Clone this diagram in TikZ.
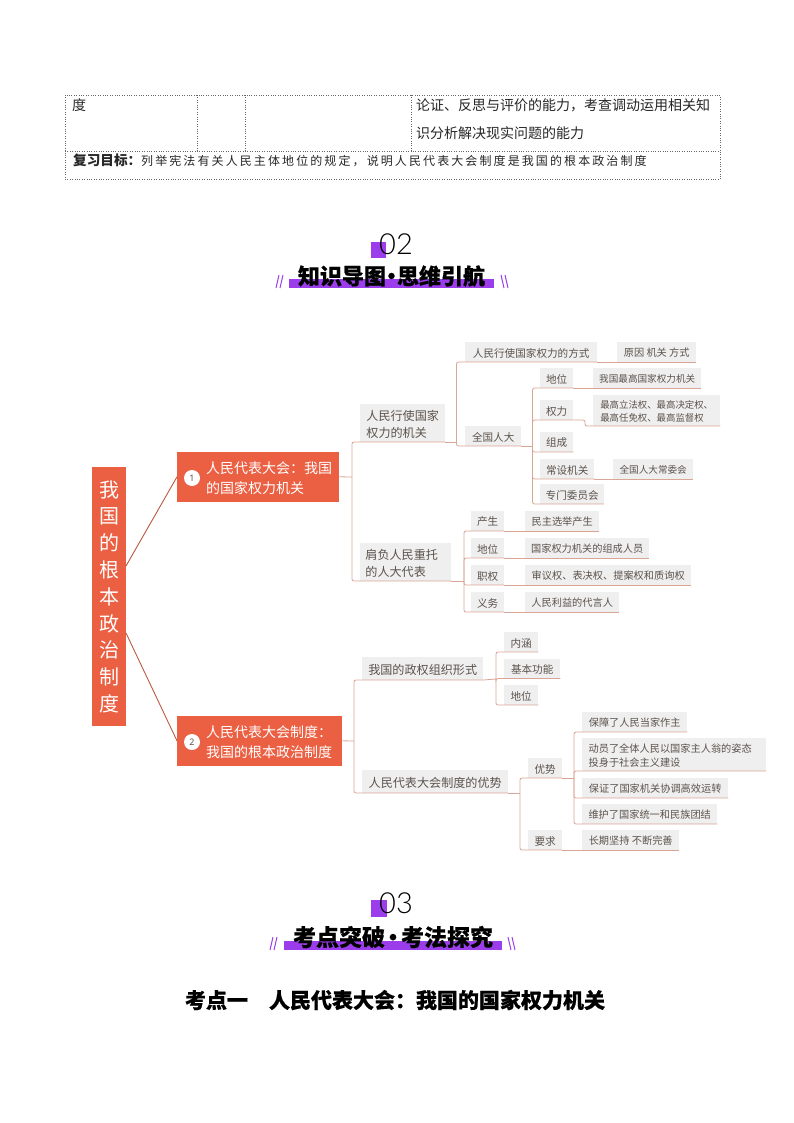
\documentclass[tikz,border=0pt]{standalone}
\usepackage{fontspec}
\setmainfont{Noto Sans CJK SC}
\newfontfamily\digitfont{Lato Light}
\newfontfamily\numfont{Noto Sans}
\usetikzlibrary{positioning}
\definecolor{tomatobox}{HTML}{EB5F42}
\definecolor{greybox}{HTML}{EFEFEF}
\definecolor{greytext}{HTML}{5C534C}
\definecolor{rootline}{HTML}{B95A42}
\definecolor{treeline}{HTML}{D9A595}
\definecolor{headpurple}{HTML}{9B3DEA}
\tikzset{
  topbox/.style={fill=tomatobox, text=white, inner sep=0pt, align=left, anchor=south west, font=\fontsize{14}{20}\selectfont},
  midbox/.style={fill=greybox, text=greytext, inner sep=0pt, align=left, anchor=south west, font=\fontsize{12.1}{17}\selectfont},
  keybox/.style={fill=greybox, text=greytext, inner sep=0pt, anchor=south west, minimum height=19.5pt, text height=10.8pt, font=\fontsize{10.6}{13}\selectfont},
  leafbox/.style={fill=greybox, text=greytext, inner sep=0pt, align=left, anchor=south west, minimum height=19.5pt, text height=10.5pt, font=\fontsize{10.2}{13}\selectfont},
  numdot/.style={circle, fill=white, text=greytext, inner sep=0pt, minimum size=16pt, font=\fontsize{9}{10}\numfont},
  rootlink/.style={draw=rootline, line width=0.9pt},
  link/.style={draw=treeline, line width=0.8pt, rounded corners=2pt},
  tablerule/.style={draw=black!60, line width=0.4pt, dotted},
  tabletext/.style={text=black!85, inner sep=0pt, anchor=west, font=\fontsize{14}{16}\selectfont},
  headbar/.style={fill=headpurple, draw=none},
  headslash/.style={draw=headpurple, line width=1pt},
  headnum/.style={inner sep=0pt, text=black, font=\fontsize{29}{30}\digitfont},
  headtitle/.style={inner sep=0pt, text=black, font=\fontsize{22}{24}\bfseries\addfontfeature{FakeBold=0.5}}
}
\begin{document}
\begin{tikzpicture}[x=1pt, y=-1pt]
  \useasboundingbox (0,0) rectangle (794,1123);

  % table at the top
  \draw[tablerule] (65,95) rectangle (720,179);
  \draw[tablerule] (65,151) -- (720,151);
  \draw[tablerule] (197,95) -- (197,151);
  \draw[tablerule] (245,95) -- (245,151);
  \draw[tablerule] (411,95) -- (411,151);
  \node[tabletext] (du) at (72,105) {度};
  \node[tabletext] (abil1) at (416,105) {论证、反思与评价的能力，考查调动运用相关知};
  \node[tabletext] (abil2) at (416,133) {识分析解决现实问题的能力};
  \node[tabletext, font=\fontsize{12}{13}\selectfont] (goal) at (73,160) {\textbf{\fontsize{13.6}{13}\selectfont 复习目标：}\addfontfeature{LetterSpace=17.5}列举宪法有关人民主体地位的规定，说明人民代表大会制度是我国的根本政治制度};

  % heading 02
  \fill[headbar] (371,242) rectangle (386,258);
  \node[headnum] (numa) at (396,244) {02};
  \fill[headbar] (289,279) rectangle (494,288);
  \node[headtitle] (heada) at (391.5,276) {知识导图\hspace{-5.5pt}•\hspace{-5.5pt}思维引航};
  \draw[headslash] (276,288) -- (279,275) (280,288) -- (283,275);
  \draw[headslash] (504,288) -- (501,275) (508,288) -- (505,275);

  % root and the two main branches
  \node[fill=tomatobox, text=white, inner sep=0pt, anchor=north west, minimum width=34pt, minimum height=259pt, align=center, font=\fontsize{20}{26.8}\selectfont] (root) at (92,467) {我\\国\\的\\根\\本\\政\\治\\制\\度};
  \node[topbox, minimum width=162pt, minimum height=50pt] (sysa) at (177,502) {\rule{0pt}{14.8pt}\hspace*{22pt}人民代表大会：我国\\\hspace*{22pt}的国家权力机关};
  \node[topbox, minimum width=165pt, minimum height=50pt] (sysb) at (177,766) {\rule{0pt}{14.8pt}\hspace*{19pt}人民代表大会制度：\\\hspace*{19pt}我国的根本政治制度};
  \node[numdot] (dota) at (192,478) {1};
  \node[numdot] (dotb) at (192,742) {2};
  \coordinate (roota) at (126,566);
  \coordinate (rootb) at (126,633);
  \draw[rootlink] (roota) -- (sysa.west);
  \draw[rootlink] (rootb) -- (sysb.west);

  % first branch, second level
  \node[midbox, minimum width=85pt, minimum height=38pt] (organ) at (360,442) {\rule{0pt}{13.6pt}人民行使国家\\权力的机关};
  \node[midbox, minimum width=91pt, minimum height=38pt] (deputy) at (360,581) {\rule{0pt}{13.6pt}肩负人民重托\hspace*{8pt}\\的人大代表};
  \coordinate (ja) at (352,477);
  \draw[link] (sysa.east) -- (ja);
  \draw[link] (ja) |- (organ.south east);
  \draw[link] (ja) |- (deputy.south east);

  % organ subtree
  \node[keybox, minimum width=132pt] (way) at (465,362) {人民行使国家权力的方式};
  \node[keybox, minimum width=56pt] (npc) at (465,446) {全国人大};
  \node[leafbox, minimum width=79pt] (wayleaf) at (617,362) {原因 机关 方式};
  \coordinate (jb) at (456.5,442);
  \draw[link] (organ.south east) -- (jb);
  \draw[link] (jb) |- (way.south east);
  \draw[link] (jb) |- (npc.south east);
  \draw[link] (way.south east) -- (wayleaf.south east);

  \node[keybox, minimum width=33pt] (statusa) at (540,388) {地位};
  \node[keybox, minimum width=33pt] (power) at (540,420) {权力};
  \node[keybox, minimum width=33pt] (form) at (540,452) {组成};
  \node[keybox, minimum width=54pt] (standing) at (540,479) {常设机关};
  \node[keybox, minimum width=64pt] (special) at (540,504) {专门委员会};
  \node[leafbox, minimum width=108pt, font=\fontsize{9.6}{13}\selectfont] (top) at (593,388) {我国最高国家权力机关};
  \node[leafbox, minimum width=127pt, minimum height=31pt, text height=, font=\fontsize{9.4}{13}\selectfont] (powers) at (593,426) {\rule{0pt}{10.3pt}最高立法权、最高决定权、\\最高任免权、最高监督权};
  \node[leafbox, minimum width=80pt, font=\fontsize{9.6}{13}\selectfont] (commit) at (613,479) {全国人大常委会};
  \coordinate (jc) at (532.5,446);
  \coordinate (jd) at (585,420);
  \draw[link] (npc.south east) -- (jc);
  \draw[link] (jc) |- (statusa.south east);
  \draw[link] (jc) |- (power.south east);
  \draw[link] (jc) |- (form.south east);
  \draw[link] (jc) |- (standing.south east);
  \draw[link] (jc) |- (special.south east);
  \draw[link] (statusa.south east) -- (top.south east);
  \draw[link] (power.south east) -- (jd) |- (powers.south east);
  \draw[link] (standing.south east) -- (commit.south east);

  % deputy subtree
  \node[keybox, minimum width=33pt] (born) at (471,531) {产生};
  \node[keybox, minimum width=33pt] (statusb) at (471,558) {地位};
  \node[keybox, minimum width=33pt] (right) at (471,585) {职权};
  \node[keybox, minimum width=33pt] (duty) at (471,612) {义务};
  \node[leafbox, minimum width=74pt] (bornleaf) at (525,531) {民主选举产生};
  \node[leafbox, minimum width=124pt] (statusleaf) at (525,558) {国家权力机关的组成人员};
  \node[leafbox, minimum width=166pt] (rightleaf) at (525,585) {审议权、表决权、提案权和质询权};
  \node[leafbox, minimum width=94pt] (dutyleaf) at (525,612) {人民利益的代言人};
  \coordinate (je) at (464,581);
  \draw[link] (deputy.south east) -- (je);
  \draw[link] (je) |- (born.south east);
  \draw[link] (je) |- (statusb.south east);
  \draw[link] (je) |- (right.south east);
  \draw[link] (je) |- (duty.south east);
  \draw[link] (born.south east) -- (bornleaf.south east);
  \draw[link] (statusb.south east) -- (statusleaf.south east);
  \draw[link] (right.south east) -- (rightleaf.south east);
  \draw[link] (duty.south east) -- (dutyleaf.south east);

  % second branch, second level
  \node[midbox, minimum width=121pt, minimum height=23pt] (regime) at (362,680) {\rule{0pt}{12.6pt}我国的政权组织形式};
  \node[midbox, minimum width=146pt, minimum height=23pt] (merit) at (362,793) {\rule{0pt}{12.6pt}人民代表大会制度的优势};
  \coordinate (jf) at (354,741);
  \draw[link] (sysb.east) -- (jf);
  \draw[link] (jf) |- (regime.south east);
  \draw[link] (jf) |- (merit.south east);

  % regime subtree
  \node[keybox, minimum width=34pt] (mean) at (504,652) {内涵};
  \node[keybox, minimum width=56pt] (func) at (504,678.5) {基本功能};
  \node[keybox, minimum width=34pt] (statusc) at (504,705) {地位};
  \coordinate (jg) at (496,679);
  \draw[link] (regime.south east) -- (jg);
  \draw[link] (jg) |- (mean.south east);
  \draw[link] (jg) |- (func.south east);
  \draw[link] (jg) |- (statusc.south east);

  % merit subtree
  \node[keybox, minimum width=34pt] (adv) at (528,778) {优势};
  \node[keybox, minimum width=34pt] (need) at (528,850) {要求};
  \coordinate (jh) at (520,793);
  \draw[link] (merit.south east) -- (jh);
  \draw[link] (jh) |- (adv.south east);
  \draw[link] (jh) |- (need.south east);

  \node[leafbox, minimum width=105pt] (adva) at (582,732) {保障了人民当家作主};
  \node[leafbox, minimum width=184pt, minimum height=33pt, text height=] (advb) at (582,771) {\rule{0pt}{11pt}动员了全体人民以国家主人翁的姿态\hspace*{8pt}\\[1pt]投身于社会主义建设};
  \node[leafbox, minimum width=146pt] (advc) at (582,798) {保证了国家机关协调高效运转};
  \node[leafbox, minimum width=135pt] (advd) at (582,824) {维护了国家统一和民族团结};
  \node[leafbox, minimum width=97pt] (needa) at (582,850) {长期坚持 不断完善};
  \coordinate (ji) at (574,778);
  \draw[link] (adv.south east) -- (ji);
  \draw[link] (ji) |- (adva.south east);
  \draw[link] (ji) |- (advb.south east);
  \draw[link] (ji) |- (advc.south east);
  \draw[link] (ji) |- (advd.south east);
  \draw[link] (need.south east) -- (needa.south east);

  % heading 03
  \fill[headbar] (371,900) rectangle (387,917);
  \node[headnum] (numb) at (396,903) {03};
  \fill[headbar] (284,941) rectangle (502,950);
  \node[headtitle, font=\fontsize{23}{24}\bfseries\addfontfeature{FakeBold=0.5}] (headb) at (393,937) {考点突破\hspace{-3.5pt}•\hspace{-3.5pt}考法探究};
  \draw[headslash] (270,950) -- (273,937) (274,950) -- (277,937);
  \draw[headslash] (511,950) -- (508,937) (515,950) -- (512,937);

  \node[headtitle, font=\fontsize{21}{24}\bfseries\addfontfeature{FakeBold=0.5}] (point) at (395,1000) {考点一\hspace{21pt}人民代表大会：我国的国家权力机关};
\end{tikzpicture}
\end{document}
